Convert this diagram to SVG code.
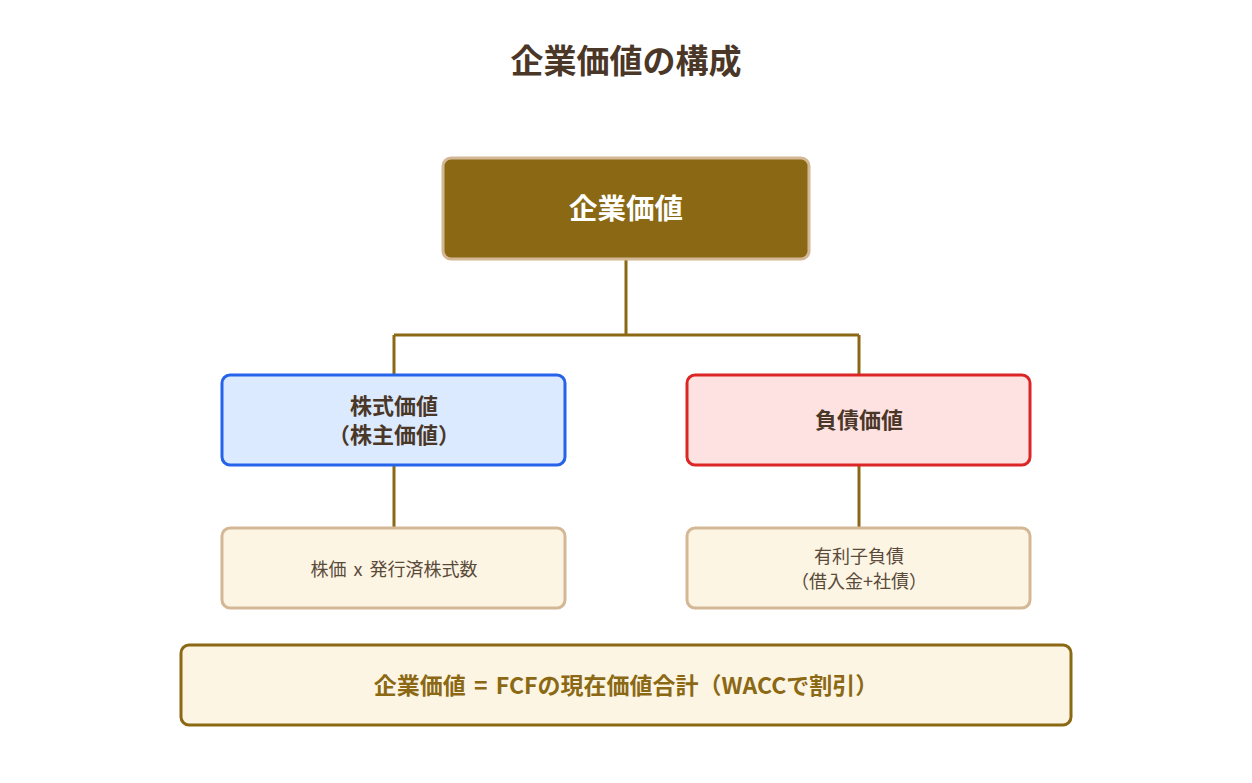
<svg xmlns="http://www.w3.org/2000/svg" width="1252" height="783" viewBox="0 0 1252 783">
<style>
text{font-family:"Noto Sans CJK JP","Noto Sans",sans-serif;text-anchor:middle;dominant-baseline:central}
.title{font-size:33px;font-weight:700;fill:#4a3728}
.top{font-size:28.5px;font-weight:700;fill:#ffffff}
.mid{font-size:22px;font-weight:700;fill:#4a3728}
.leaf{font-size:18px;fill:#5a4a3a;word-spacing:3px}
.foot{font-size:23px;font-weight:700;fill:#8b6914;word-spacing:3px}
.conn{stroke:#8b6914;stroke-width:3;fill:none}
</style>
<rect width="1252" height="783" fill="#ffffff"/>
<text class="title" x="626" y="59">企業価値の構成</text>
<g id="connectors">
<path class="conn" d="M626 260V335M394 335H859M394 335V375M859 335V375M394 466V528M859 466V528"/>
</g>
<g id="enterprise">
<rect x="443" y="158" width="366" height="101" rx="8" fill="#8b6914" stroke="#d4b896" stroke-width="3"/>
<text class="top" x="626" y="206">企業価値</text>
</g>
<g id="equity">
<rect x="222" y="375" width="343" height="90" rx="8" fill="#dbeafe" stroke="#2563eb" stroke-width="3"/>
<text class="mid" x="394" y="404">株式価値</text>
<text class="mid" x="394" y="433">（株主価値）</text>
</g>
<g id="debt">
<rect x="687" y="375" width="343" height="90" rx="8" fill="#fee2e2" stroke="#dc2626" stroke-width="3"/>
<text class="mid" x="859" y="418">負債価値</text>
</g>
<g id="equity-detail">
<rect x="222" y="528" width="343" height="80" rx="8" fill="#fdf5e4" stroke="#d4b896" stroke-width="3"/>
<text class="leaf" x="394" y="568">株価 x 発行済株式数</text>
</g>
<g id="debt-detail">
<rect x="687" y="528" width="343" height="80" rx="8" fill="#fdf5e4" stroke="#d4b896" stroke-width="3"/>
<text class="leaf" x="859" y="555">有利子負債</text>
<text class="leaf" x="859" y="580">（借入金+社債）</text>
</g>
<g id="formula">
<rect x="181" y="645" width="890" height="80" rx="8" fill="#fdf5e4" stroke="#8b6914" stroke-width="3"/>
<text class="foot" x="626" y="684">企業価値 = FCFの現在価値合計（WACCで割引）</text>
</g>
</svg>
